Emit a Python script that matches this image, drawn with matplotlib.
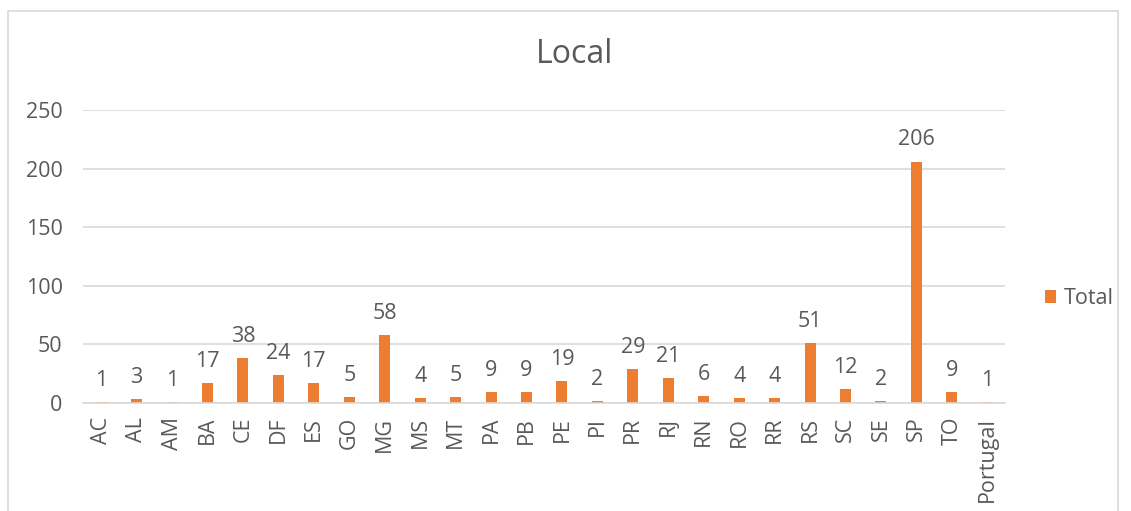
import matplotlib.pyplot as plt
from matplotlib.patches import Rectangle

states = ["AC", "AL", "AM", "BA", "CE", "DF", "ES", "GO", "MG", "MS", "MT", "PA", "PB",
          "PE", "PI", "PR", "RJ", "RN", "RO", "RR", "RS", "SC", "SE", "SP", "TO", "Portugal"]
totals = [1, 3, 1, 17, 38, 24, 17, 5, 58, 4, 5, 9, 9,
          19, 2, 29, 21, 6, 4, 4, 51, 12, 2, 206, 9, 1]

orange = "#ED7D31"
txt = "#595959"
grid = "#D9D9D9"
fs = 15.5

plt.rcParams["font.family"] = ["Open Sans", "DejaVu Sans"]

fig = plt.figure(figsize=[11.31, 5.11], dpi=100)
ax = fig.add_axes([0.0738, 0.2114, 0.8148, 0.5733])

x = range(len(states))
ax.bar(x, totals, width=0.31, color=orange, label="Total", zorder=3)
for xi, v in zip(x, totals):
    ax.annotate(str(v), (xi, v), xytext=(0, 8), textcoords="offset points",
                ha="center", va="bottom", fontsize=fs, color=txt)

ax.set_xlim(-0.5, len(states) - 0.5)
ax.set_ylim(0, 250)
ax.set_yticks(range(0, 251, 50))
ax.yaxis.grid(True, color=grid, lw=1.2, zorder=0)
ax.set_xticks(list(x))
ax.set_xticklabels(states, rotation=90, fontsize=fs, color=txt)
ax.tick_params(axis="y", labelsize=fs, labelcolor=txt, length=0, pad=15)
ax.tick_params(axis="x", length=0, pad=10)
for s in ["top", "right", "left"]:
    ax.spines[s].set_visible(False)
ax.spines["bottom"].set_color(grid)
ax.spines["bottom"].set_linewidth(1.2)
ax.spines["bottom"].set_zorder(4)

fig.text(0.508, 0.893, "Local", ha="center", va="center", fontsize=23, color=txt)

ax.legend(loc="center left", bbox_to_anchor=(1.022, 0.355), frameon=False,
          fontsize=fs, labelcolor=txt, handlelength=0.55, handleheight=0.55,
          handletextpad=0.35)

fig.patches.append(Rectangle((8 / 1131, -0.1), (1118 - 8) / 1131, 1.1 - 11 / 511,
                             transform=fig.transFigure, fill=False,
                             edgecolor=grid, lw=1.2))

plt.savefig("out.png", dpi=100)
plt.close()
